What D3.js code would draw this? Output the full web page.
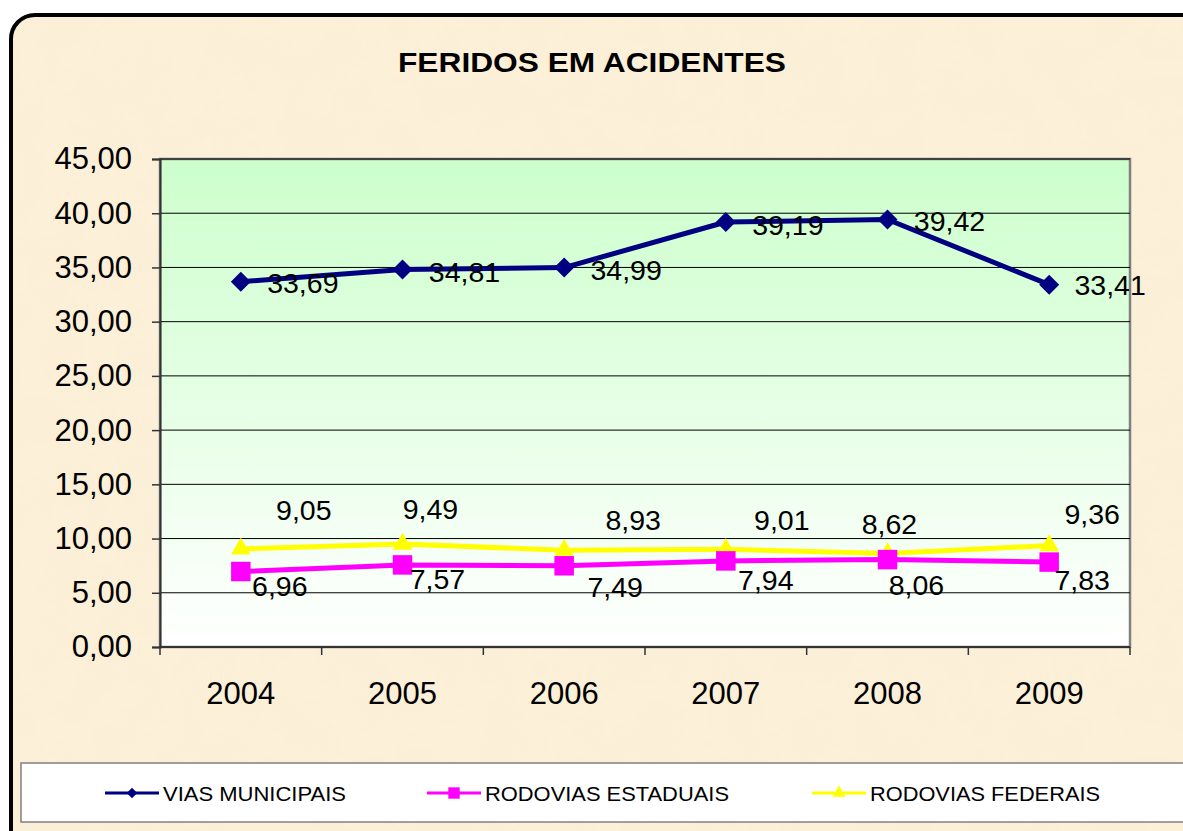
<!DOCTYPE html>
<html>
<head>
<meta charset="utf-8">
<script src="https://cdn.jsdelivr.net/npm/d3@7"></script>
<style>
  body { margin: 0; background: #fff; }
  svg { display: block; font-family: "Liberation Sans", Arial, sans-serif; }
</style>
</head>
<body>
<script>
var years = ["2004", "2005", "2006", "2007", "2008", "2009"];
var viasMunicipais = [33.69, 34.81, 34.99, 39.19, 39.42, 33.41];
var rodoviasEstaduais = [6.96, 7.57, 7.49, 7.94, 8.06, 7.83];
var rodoviasFederais = [9.05, 9.49, 8.93, 9.01, 8.62, 9.36];
var yTicks = [0, 5, 10, 15, 20, 25, 30, 35, 40, 45];

// label offsets (dx of text centre, dy of text centre) as Excel placed them
var munOffsets = [[62, 1], [62, 2], [62, 2], [62, 3], [62, 1], [61, 0]];
var estOffsets = [[39, 14], [35, 14], [51, 21], [40, 19], [29, 25], [33, 18]];
var fedOffsets = [[63, -39], [28, -35], [69, -30], [56, -30], [2, -30], [43, -32]];

function fmt(v) { return v.toFixed(2).replace(".", ","); }

function drawChart() {
  var width = 1183, height = 831;
  var svg = d3.select("body").append("svg")
    .attr("width", width).attr("height", height);

  var defs = svg.append("defs");
  var grad = defs.append("linearGradient").attr("id", "plotbg")
    .attr("x1", 0).attr("y1", 0).attr("x2", 0).attr("y2", 1);
  grad.append("stop").attr("offset", "0%").attr("stop-color", "#CCFFCC");
  grad.append("stop").attr("offset", "100%").attr("stop-color", "#FFFFFF");

  var tex = defs.append("filter").attr("id", "paper")
    .attr("x", 0).attr("y", 0).attr("width", "100%").attr("height", "100%");
  tex.append("feTurbulence").attr("type", "fractalNoise")
    .attr("baseFrequency", 0.025).attr("numOctaves", 3).attr("seed", 7);
  tex.append("feColorMatrix").attr("type", "matrix")
    .attr("values", "0 0 0 0 0.88  0 0 0 0 0.80  0 0 0 0 0.62  0 0 0 0.25 -0.06");
  tex.append("feComposite").attr("in2", "SourceGraphic").attr("operator", "in");

  // parchment frame
  svg.append("rect").attr("x", 11).attr("y", 15).attr("width", 1200).attr("height", 850)
    .attr("rx", 24).attr("fill", "#FCF0D8").attr("stroke", "#000").attr("stroke-width", 4);
  svg.append("rect").attr("x", 13).attr("y", 17).attr("width", 1196).attr("height", 846)
    .attr("rx", 22).attr("fill", "#fff").attr("filter", "url(#paper)");

  svg.append("text").attr("x", 398).attr("y", 72)
    .attr("font-size", 28).attr("font-weight", "bold")
    .attr("textLength", 388).attr("lengthAdjust", "spacingAndGlyphs")
    .text("FERIDOS EM ACIDENTES");

  var left = 160, right = 1130, top = 159, bottom = 647;
  var x = d3.scaleBand().domain(years).range([left, right]);
  var y = d3.scaleLinear().domain([0, 45]).range([bottom, top]);

  svg.append("rect").attr("x", left).attr("y", top)
    .attr("width", right - left).attr("height", bottom - top)
    .attr("fill", "url(#plotbg)").attr("stroke", "#808080").attr("stroke-width", 2.5);

  svg.append("g").selectAll("line").data(yTicks.slice(1)).enter().append("line")
    .attr("x1", left).attr("x2", right)
    .attr("y1", function (d) { return y(d); }).attr("y2", function (d) { return y(d); })
    .attr("stroke", "#000").attr("stroke-width", 1);

  var yAxis = svg.append("g").attr("transform", "translate(" + left + ",0)")
    .call(d3.axisLeft(y).tickValues(yTicks).tickSize(8).tickPadding(20).tickFormat(fmt));
  yAxis.select(".domain").attr("stroke", "#333").attr("stroke-width", 2);
  yAxis.selectAll(".tick line").attr("stroke", "#333").attr("stroke-width", 1.5);
  yAxis.selectAll("text").attr("font-size", 31).attr("fill", "#000")
    .attr("font-family", "Liberation Sans, Arial, sans-serif");

  var bounds = years.map(function (d) { return x(d); }).concat([right]);
  svg.append("line").attr("x1", left).attr("x2", right).attr("y1", bottom).attr("y2", bottom)
    .attr("stroke", "#333").attr("stroke-width", 2);
  svg.append("g").selectAll("line").data(bounds).enter().append("line")
    .attr("x1", function (d) { return d; }).attr("x2", function (d) { return d; })
    .attr("y1", bottom).attr("y2", bottom + 8).attr("stroke", "#333").attr("stroke-width", 1.5);
  svg.append("g").selectAll("text").data(years).enter().append("text")
    .attr("x", function (d) { return x(d) + x.bandwidth() / 2; })
    .attr("y", 704).attr("text-anchor", "middle").attr("font-size", 31)
    .text(function (d) { return d; });

  var cx = function (i) { return x(years[i]) + x.bandwidth() / 2; };

  var series = [
    { values: rodoviasFederais, color: "#FFFF00", symbol: d3.symbolTriangle, size: 165, rot: 0, offsets: fedOffsets },
    { values: rodoviasEstaduais, color: "#FF00FF", symbol: d3.symbolSquare, size: 380, rot: 0, offsets: estOffsets },
    { values: viasMunicipais, color: "#000080", symbol: d3.symbolSquare, size: 200, rot: 45, offsets: munOffsets }
  ];

  var line = d3.line().x(function (d, i) { return cx(i); }).y(function (d) { return y(d); });

  series.forEach(function (s) {
    var g = svg.append("g");
    g.append("path").datum(s.values).attr("d", line)
      .attr("fill", "none").attr("stroke", s.color).attr("stroke-width", 5)
      .attr("stroke-linejoin", "round");
    g.selectAll(".pt").data(s.values).enter().append("path")
      .attr("d", d3.symbol().type(s.symbol).size(s.size))
      .attr("transform", function (d, i) {
        return "translate(" + cx(i) + "," + y(d) + ") rotate(" + s.rot + ")";
      })
      .attr("fill", s.color);
  });

  series.forEach(function (s) {
    svg.append("g").selectAll("text").data(s.values).enter().append("text")
      .attr("x", function (d, i) { return cx(i) + s.offsets[i][0]; })
      .attr("y", function (d, i) { return y(d) + s.offsets[i][1]; })
      .attr("dy", "0.36em").attr("text-anchor", "middle").attr("font-size", 28.5)
      .text(function (d) { return fmt(d); });
  });

  // legend
  svg.append("rect").attr("x", 21).attr("y", 763).attr("width", 1180).attr("height", 59)
    .attr("fill", "#fff").attr("stroke", "#808080").attr("stroke-width", 1.5);
  var legend = [
    { name: "VIAS MUNICIPAIS", color: "#000080", symbol: d3.symbolSquare, size: 55, rot: 45, x0: 105, len: 183 },
    { name: "RODOVIAS ESTADUAIS", color: "#FF00FF", symbol: d3.symbolSquare, size: 130, rot: 0, x0: 427, len: 244 },
    { name: "RODOVIAS FEDERAIS", color: "#FFFF00", symbol: d3.symbolTriangle, size: 75, rot: 0, x0: 812, len: 230 }
  ];
  var lg = svg.append("g").selectAll("g").data(legend).enter().append("g")
    .attr("transform", function (d) { return "translate(" + d.x0 + ",793)"; });
  lg.append("line").attr("x1", 0).attr("x2", 54).attr("stroke", function (d) { return d.color; })
    .attr("stroke-width", 3);
  lg.append("path").attr("transform", function (d) { return "translate(27,0) rotate(" + d.rot + ")"; })
    .attr("d", function (d) { return d3.symbol().type(d.symbol).size(d.size)(); })
    .attr("fill", function (d) { return d.color; });
  lg.append("text").attr("x", 58).attr("dy", "0.36em").attr("font-size", 21)
    .attr("textLength", function (d) { return d.len; }).attr("lengthAdjust", "spacingAndGlyphs")
    .text(function (d) { return d.name; });
}

drawChart();
</script>
</body>
</html>
